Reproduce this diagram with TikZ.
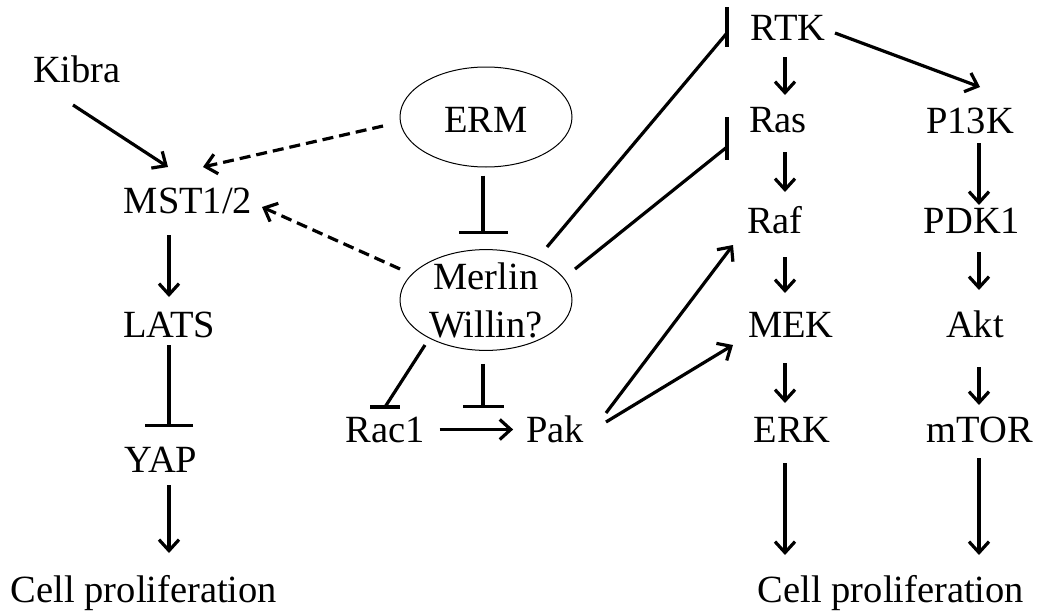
\documentclass[tikz,border=0pt]{standalone}
\usepackage{fontspec}
\setmainfont{Liberation Serif}
\usetikzlibrary{arrows.meta,shapes.geometric}
\begin{document}
\begin{tikzpicture}[x=1pt,y=-1pt,
  lbl/.style={inner sep=0pt, outer sep=0pt, anchor=base, font=\fontsize{38.5pt}{48pt}\selectfont, text height=25pt, text depth=0pt},
  oval/.style={draw, ellipse, line width=1pt, inner xsep=0pt, inner ysep=-2pt, minimum width=172pt, minimum height=100pt, font=\fontsize{38.5pt}{48pt}\selectfont, align=center},
  arr/.style={line width=3.2pt, -{Straight Barb[length=11pt,width=20pt]}},
  dasharr/.style={arr, dash pattern=on 11pt off 6pt},
  inh/.style={line width=3.2pt}
]
\useasboundingbox (0,0) rectangle (1038,613);

% nodes
\node[lbl] (kibra) at (77,82) {Kibra};
\node[lbl] (mst) at (188,213) {MST1/2};
\node[lbl] (lats) at (169,337) {LATS};
\node[lbl] (yap) at (161,472) {YAP};
\node[lbl] (cellL) at (144,602) {Cell proliferation};
\node[oval, text height=31pt, text depth=0pt] (erm) at (486,117) {ERM};
\node[oval] (merlin) at (486,300) {Merlin\\Willin?};
\node[lbl] (rac) at (385,442) {Rac1};
\node[lbl] (pak) at (555,442) {Pak};
\node[lbl] (rtk) at (788,40) {RTK};
\node[lbl] (ras) at (778,132) {Ras};
\node[lbl] (raf) at (775,233) {Raf};
\node[lbl] (mek) at (791,337) {MEK};
\node[lbl] (erk) at (792,442) {ERK};
\node[lbl] (cellR) at (891,602) {Cell proliferation};
\node[lbl] (pi3k) at (970,133) {P13K};
\node[lbl] (pdk) at (972,233) {PDK1};
\node[lbl] (akt) at (975,337) {Akt};
\node[lbl] (mtor) at (980,442) {mTOR};

\coordinate (c0) at (169,0);
\coordinate (c1) at (785,0);
\coordinate (c2) at (979,0);

% left column
\draw[arr, shorten <=22pt, shorten >=15pt] (mst.base -| c0) -- (lats.north -| c0);
\draw[inh, -{Bar[width=48pt]}, shorten <=8pt, shorten >=20pt] (lats.base -| c0) -- (yap.north -| c0);
\draw[arr, shorten <=13pt, shorten >=24pt] (yap.base -| c0) -- (cellL.north -| c0);

% inputs to MST1/2
\draw[arr] ([shift={(-4,23)}]kibra.base) -- ([shift={(-20,-46)}]mst.base);
\draw[dasharr] ([shift={(-103,9)}]erm.center) -- ([shift={(15,-46)}]mst.base);
\draw[dasharr] ([shift={(-86,-31)}]merlin.center) -- ([shift={(74,-6)}]mst.base);

% ERM -| Merlin
\draw[inh, -{Bar[width=49pt]}, shorten <=8pt, shorten >=15pt] ([xshift=-3pt]erm.south) -- ([xshift=-3pt]merlin.north);

% Merlin -| Rac1
\coordinate (racbar) at ([yshift=35pt]rac.base);
\draw[inh] ([shift={(-61,45)}]merlin.center) -- (racbar);
\draw[inh] ([xshift=-15pt]racbar) -- ([xshift=15pt]racbar);

% Rac1 -> Pak and Merlin -| it
\draw[arr, shorten <=15pt, shorten >=13pt] (rac.east) -- (pak.west);
\draw[inh, -{Bar[width=41pt]}, shorten <=13pt] ([xshift=-3pt]merlin.south) -- ++(0,57);

% Merlin -| RTK
\coordinate (rtkbar) at ([shift={(-61,-7)}]rtk.base);
\draw[inh] ([shift={(61,-53)}]merlin.center) -- (rtkbar);
\draw[inh] ([shift={(-61,-33)}]rtk.base) -- ([shift={(-61,7)}]rtk.base);

% Merlin -| Ras
\coordinate (rasbar) at ([shift={(-51,15)}]ras.base);
\draw[inh] ([shift={(89,-31)}]merlin.center) -- (rasbar);
\draw[inh] ([shift={(-51,-15)}]ras.base) -- ([shift={(-51,28)}]ras.base);

% Pak -> Raf, MEK
\draw[arr] ([shift={(51,-29)}]pak.base) -- ([shift={(-42,12)}]raf.base);
\draw[arr] ([shift={(51,-20)}]pak.base) -- ([shift={(-58,8)}]mek.base);

% RTK -> PI3K
\draw[arr] ([shift={(47,-7)}]rtk.base) -- ([shift={(10,-46)}]pi3k.base);

% right column 1
\draw[arr, shorten <=17pt, shorten >=12pt] (rtk.base -| c1) -- (ras.north -| c1);
\draw[arr, shorten <=20pt, shorten >=16pt] (ras.base -| c1) -- (raf.north -| c1);
\draw[arr, shorten <=24pt, shorten >=19pt] (raf.base -| c1) -- (mek.north -| c1);
\draw[arr, shorten <=26pt, shorten >=14pt] (mek.base -| c1) -- (erk.north -| c1);
\draw[arr, shorten <=21pt, shorten >=22pt] (erk.base -| c1) -- (cellR.north -| c1);

% right column 2
\draw[arr, shorten <=10pt, shorten >=3pt] (pi3k.base -| c2) -- (pdk.north -| c2);
\draw[arr, shorten <=19pt, shorten >=22pt] (pdk.base -| c2) -- (akt.north -| c2);
\draw[arr, shorten <=30pt, shorten >=12pt] (akt.base -| c2) -- (mtor.north -| c2);
\draw[arr, shorten <=16pt, shorten >=22pt] (mtor.base -| c2) -- (cellR.north -| c2);
\end{tikzpicture}
\end{document}
